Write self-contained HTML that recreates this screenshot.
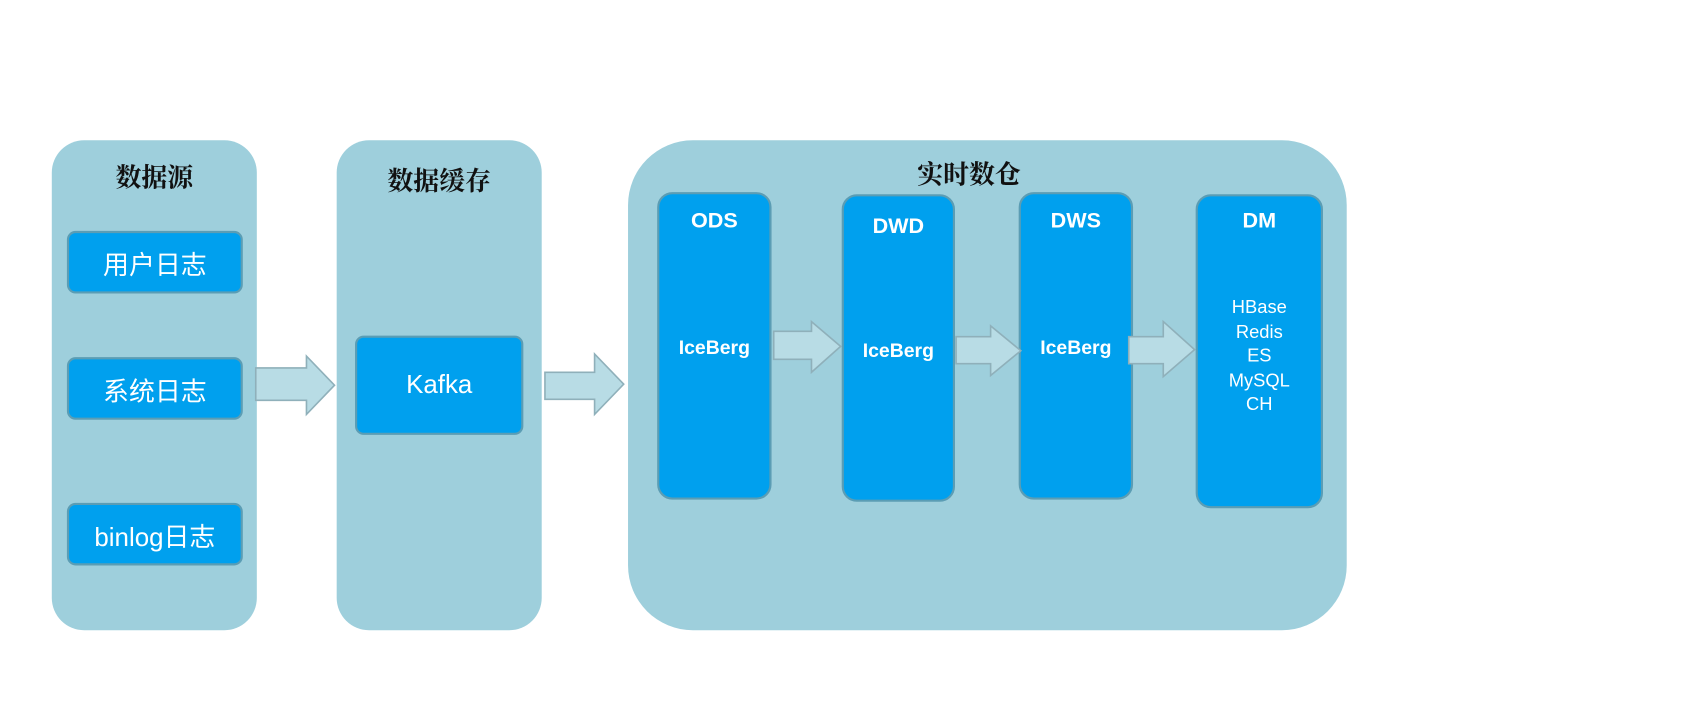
<!DOCTYPE html>
<html><head><meta charset="utf-8"><style>
body{margin:0;width:1692px;height:723px;background:#fff;position:relative;overflow:hidden;font-family:"Liberation Sans","Noto Sans CJK SC",sans-serif}
#w{position:absolute;left:0;top:0;width:1568px;height:670px;transform:scale(1.0791);transform-origin:0 0}
.p{position:absolute;background:#9ecfdc;border-radius:30px}
.b{position:absolute;background:#00a0ee;border:2px solid #5b9db4;border-radius:8px;box-sizing:border-box;color:#fff;text-align:center}
.t{position:absolute;font-family:"Liberation Serif","Noto Serif CJK SC",serif;font-weight:bold;font-size:24px;color:#111;text-align:center}
.c{display:flex;align-items:center;justify-content:center;font-size:24px}
.h{position:absolute;left:0;right:0;font-weight:bold;font-size:20px}
.m{position:absolute;left:0;right:0;font-weight:bold;font-size:18px}
svg{position:absolute;left:0;top:0}
</style></head><body><div id="w">
<div class="p" style="left:48px;top:130px;width:190px;height:454px"></div>
<div class="p" style="left:312px;top:130px;width:190px;height:454px"></div>
<div class="p" style="left:582px;top:130px;width:666px;height:454px;border-radius:60px"></div>
<div class="t" style="left:48px;top:145px;width:190px">数据源</div>
<div class="t" style="left:312px;top:148px;width:190px">数据缓存</div>
<div class="t" style="left:582px;top:142px;width:632px">实时数仓</div>
<div class="b c" style="left:62px;top:214px;width:163px;height:58px">用户日志</div>
<div class="b c" style="left:62px;top:331px;width:163px;height:58px">系统日志</div>
<div class="b c" style="left:62px;top:466px;width:163px;height:58px">binlog日志</div>
<div class="b c" style="left:329px;top:311px;width:156px;height:92px">Kafka</div>
<div class="b" style="left:609px;top:178px;width:106px;height:285px;border-radius:14px"><div class="h" style="top:14px">ODS</div><div class="m" style="top:132px">IceBerg</div></div>
<div class="b" style="left:780px;top:180px;width:105px;height:285px;border-radius:14px"><div class="h" style="top:17px">DWD</div><div class="m" style="top:133px">IceBerg</div></div>
<div class="b" style="left:944px;top:178px;width:106px;height:285px;border-radius:14px"><div class="h" style="top:14px">DWS</div><div class="m" style="top:132px">IceBerg</div></div>
<div class="b" style="left:1108px;top:180px;width:118px;height:291px;border-radius:14px"><div class="h" style="top:12px">DM</div><div style="position:absolute;left:0;right:0;top:92px;font-size:17px;line-height:22.5px">HBase<br>Redis<br>ES<br>MySQL<br>CH</div></div>
<svg width="1568" height="670">
<g fill="#b8dce5" stroke="#8fb0ba" stroke-width="1.5">
<polygon points="237,341 284,341 284,330 310,357 284,384 284,371 237,371"/>
<polygon points="505,345 551,345 551,328 578,356 551,384 551,370 505,370"/>
<polygon points="717,307 752,307 752,298 779,321 752,345 752,333 717,333"/>
<polygon points="886,312 918,312 918,302 946,325 918,348 918,337 886,337"/>
<polygon points="1046,312 1078,312 1078,298 1107,324 1078,349 1078,337 1046,337"/>
</g></svg>
</div></body></html>
